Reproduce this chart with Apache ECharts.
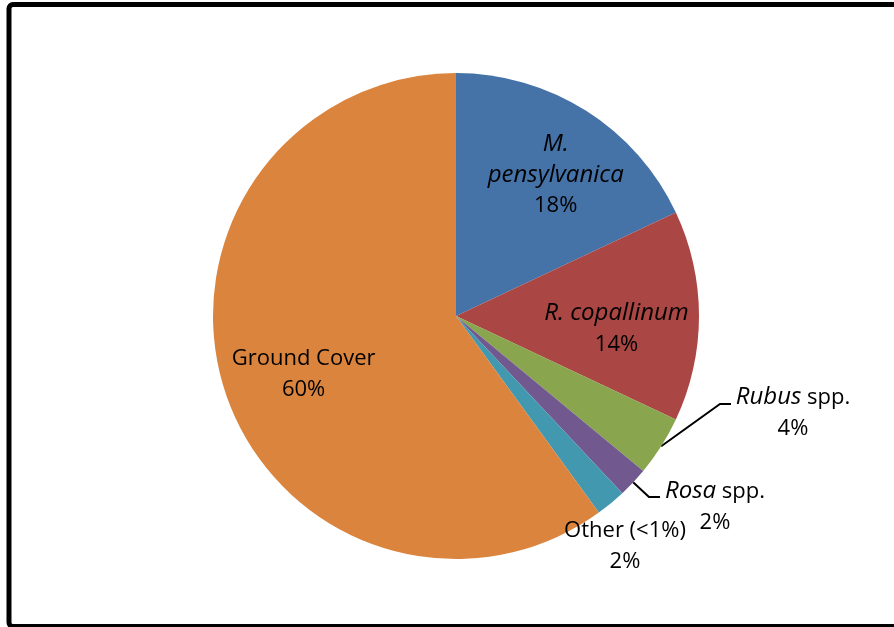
<!DOCTYPE html>
<html><head><meta charset="utf-8">
<script src="https://cdn.jsdelivr.net/npm/echarts@6/dist/echarts.min.js"></script>
<style>html,body{margin:0;padding:0;background:#fff}#c{width:894px;height:627px}</style>
</head><body><div id="c"></div>
<script>
const categories = ['M. pensylvanica', 'R. copallinum', 'Rubus spp.', 'Rosa spp.', 'Other (<1%)', 'Ground Cover'];
const values = [18, 14, 4, 2, 2, 60];
const labelNames = ['{i|M.}\n{i|pensylvanica}', '{i|R. copallinum}', '{i|Rubus} spp.', '{i|Rosa} spp.', 'Other (<1%)', 'Ground Cover'];
const colors = ['#4572A7', '#AA4643', '#89A54E', '#71588F', '#4198AF', '#DB843D'];
const insideItems = [true, true, false, false, false, true];

const FONT = '"Open Sans", sans-serif';
const chart = echarts.init(document.getElementById('c'), null, {renderer: 'canvas'});

const insideOffset = {0: [33, -36], 1: [36, 13], 5: [-34, 20]};
const outsidePos = {2: [793, 413], 3: [715, 507], 4: [625, 546]};
const lineOffset = {2: [[-73, -9], [-62, -9]], 3: [[-66, -10], [-55, -10]]};

const data = categories.map((n, i) => ({
  name: n,
  value: values[i],
  itemStyle: {color: colors[i]},
  label: {position: insideItems[i] ? 'inside' : 'outside'},
  labelLine: {show: !insideItems[i] && i !== 4}
}));

chart.setOption({
  animation: false,
  graphic: [{
    type: 'rect', silent: true, z: 100,
    shape: {x: 9, y: 4.5, width: 900, height: 622, r: 4},
    style: {fill: 'none', stroke: '#000', lineWidth: 5}
  }],
  series: [{
    type: 'pie',
    center: [456, 316],
    radius: 243,
    startAngle: 90,
    clockwise: true,
    avoidLabelOverlap: false,
    data: data,
    itemStyle: {borderWidth: 0},
    label: {
      show: true,
      color: '#000',
      fontFamily: FONT,
      fontSize: 22,
      lineHeight: 31,
      align: 'center',
      formatter: p => labelNames[p.dataIndex] + '\n' + values[p.dataIndex] + '%',
      rich: {i: {fontStyle: 'italic', fontFamily: FONT, fontSize: 24, lineHeight: 31, color: '#000'}}
    },
    labelLine: {lineStyle: {color: '#000', width: 2}, length: 20, length2: 10, smooth: false},
    labelLayout: function (p) {
      const i = p.dataIndex;
      if (insideOffset[i]) return {dx: insideOffset[i][0], dy: insideOffset[i][1]};
      const pos = outsidePos[i];
      const res = {x: pos[0], y: pos[1], align: 'center', verticalAlign: 'middle'};
      if (lineOffset[i] && p.labelLinePoints) {
        res.labelLinePoints = [p.labelLinePoints[0],
          [pos[0] + lineOffset[i][0][0], pos[1] + lineOffset[i][0][1]],
          [pos[0] + lineOffset[i][1][0], pos[1] + lineOffset[i][1][1]]];
      }
      return res;
    },
    emphasis: {disabled: true}
  }]
});
</script></body></html>
